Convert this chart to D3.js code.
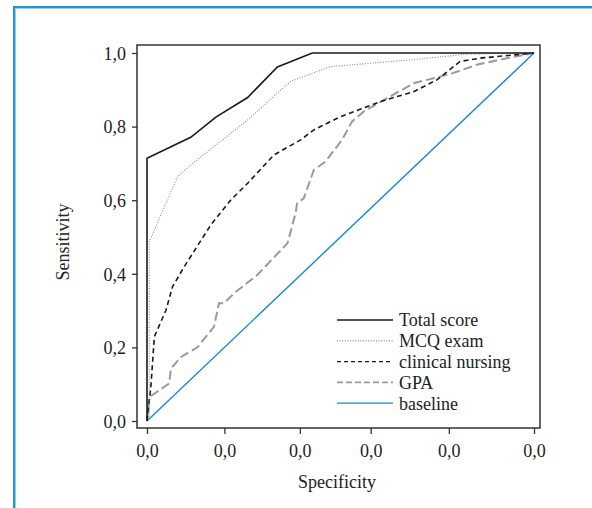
<!DOCTYPE html>
<html>
<head>
<meta charset="utf-8">
<script src="https://cdn.jsdelivr.net/npm/d3@7"></script>
<style>
  body { margin: 0; background: #fff; }
  svg text { font-family: "Liberation Serif", "Times New Roman", serif; fill: #222; }
</style>
</head>
<body>
<svg width="592" height="508"></svg>
<script>
// ROC curves: [1 - specificity, sensitivity]
var totalScore = [[0, 0], [0, 0.714], [0.113, 0.771], [0.178, 0.826], [0.26, 0.879],
  [0.337, 0.962], [0.427, 1.0], [1, 1]];
var mcqExam = [[0, 0], [0.006, 0.01], [0.006, 0.487], [0.079, 0.664], [0.118, 0.70],
  [0.26, 0.818], [0.371, 0.923], [0.474, 0.963], [0.689, 0.982], [0.827, 0.997], [1, 1]];
var clinicalNursing = [[0, 0], [0.01, 0.093], [0.019, 0.229], [0.049, 0.301], [0.066, 0.365],
  [0.096, 0.419], [0.165, 0.533], [0.216, 0.60], [0.26, 0.646], [0.328, 0.723],
  [0.397, 0.764], [0.431, 0.791], [0.5, 0.827], [0.603, 0.868], [0.689, 0.895],
  [0.749, 0.927], [0.809, 0.977], [0.861, 0.986], [1, 1]];
var gpa = [[0, 0], [0.006, 0.065], [0.057, 0.102], [0.062, 0.143], [0.088, 0.174],
  [0.131, 0.201], [0.173, 0.256], [0.186, 0.32], [0.199, 0.32], [0.225, 0.347],
  [0.285, 0.397], [0.363, 0.483], [0.384, 0.565], [0.388, 0.592], [0.405, 0.605],
  [0.431, 0.682], [0.461, 0.705], [0.504, 0.764], [0.53, 0.814], [0.56, 0.841],
  [0.629, 0.882], [0.689, 0.918], [0.758, 0.936], [0.792, 0.946], [0.852, 0.968],
  [0.93, 0.986], [1, 1]];
var baseline = [[0, 0], [1, 1]];

var yTicks = [0, 0.2, 0.4, 0.6, 0.8, 1.0];
var yTickLabels = ["0,0", "0,2", "0,4", "0,6", "0,8", "1,0"];
// the x ticks in the figure are unevenly spaced and all read "0,0"
var xTicks = [0, 0.2, 0.395, 0.578, 0.78, 1.0];
var xTickLabels = ["0,0", "0,0", "0,0", "0,0", "0,0", "0,0"];

var seriesNames = ["Total score", "MCQ exam", "clinical nursing", "GPA", "baseline"];

var svg = d3.select("svg");

// blue page frame
svg.append("path")
  .attr("d", "M14,508 V7 H592")
  .attr("fill", "none")
  .attr("stroke", "#2393d6")
  .attr("stroke-width", 2);
svg.append("path")
  .attr("d", "M15.5,508 V8.5 H592")
  .attr("fill", "none")
  .attr("stroke", "#8fd3f2")
  .attr("stroke-width", 1);

var box = { left: 137, top: 45, right: 540, bottom: 428 };

var x = d3.scaleLinear().domain([0, 1]).range([147, 534]);
var y = d3.scaleLinear().domain([0, 1]).range([421, 53]);

svg.append("rect")
  .attr("x", box.left)
  .attr("y", box.top)
  .attr("width", box.right - box.left)
  .attr("height", box.bottom - box.top)
  .attr("fill", "none")
  .attr("stroke", "#333")
  .attr("stroke-width", 1.5);

var yAxis = d3.axisLeft(y)
  .tickValues(yTicks)
  .tickSize(5)
  .tickFormat(function(d, i) { return yTickLabels[i]; });
var gy = svg.append("g")
  .attr("transform", "translate(" + box.left + ",0)")
  .call(yAxis);

var xAxis = d3.axisBottom(x)
  .tickValues(xTicks)
  .tickSize(6)
  .tickFormat(function(d, i) { return xTickLabels[i]; });
var gx = svg.append("g")
  .attr("transform", "translate(0," + box.bottom + ")")
  .call(xAxis);

[gx, gy].forEach(function(g) {
  g.select(".domain").remove();
  g.selectAll(".tick line").attr("stroke", "#333").attr("stroke-width", 1.3);
  g.selectAll(".tick text")
    .attr("font-size", 18)
    .attr("font-family", "Liberation Serif, serif")
    .attr("fill", "#222");
});
gy.selectAll(".tick text").attr("x", -11).attr("dy", "0.35em");
gx.selectAll(".tick text").attr("y", 16);

svg.append("text")
  .attr("x", 337)
  .attr("y", 488)
  .attr("text-anchor", "middle")
  .attr("font-size", 18)
  .text("Specificity");

svg.append("text")
  .attr("transform", "translate(69,242) rotate(-90)")
  .attr("text-anchor", "middle")
  .attr("font-size", 18)
  .text("Sensitivity");

var line = d3.line()
  .x(function(d) { return x(d[0]); })
  .y(function(d) { return y(d[1]); });

var styles = [
  { data: totalScore, stroke: "#1a1a1a", width: 1.6, dash: null },
  { data: mcqExam, stroke: "#8a8a8a", width: 1.1, dash: "1,1.6" },
  { data: clinicalNursing, stroke: "#1a1a1a", width: 1.6, dash: "5,3.5" },
  { data: gpa, stroke: "#9a9a9a", width: 2, dash: "9,4" },
  { data: baseline, stroke: "#1688d2", width: 1.4, dash: null }
];

// draw back to front so the black curves stay on top
[4, 3, 2, 1, 0].forEach(function(i) {
  var s = styles[i];
  svg.append("path")
    .datum(s.data)
    .attr("d", line)
    .attr("fill", "none")
    .attr("stroke", s.stroke)
    .attr("stroke-width", s.width)
    .attr("stroke-dasharray", s.dash);
});

// legend
var legend = svg.append("g").attr("transform", "translate(337,320)");
seriesNames.forEach(function(name, i) {
  var s = styles[i];
  var row = legend.append("g").attr("transform", "translate(0," + (i * 20.8) + ")");
  row.append("line")
    .attr("x1", 0).attr("x2", 56)
    .attr("stroke", s.stroke)
    .attr("stroke-width", i === 3 ? 1.8 : 1.3)
    .attr("stroke-dasharray", i === 3 ? "6,3" : (i === 2 ? "4,3" : s.dash));
  row.append("text")
    .attr("x", 62)
    .attr("dy", "0.35em")
    .attr("font-size", 18)
    .text(name);
});
</script>
</body>
</html>
